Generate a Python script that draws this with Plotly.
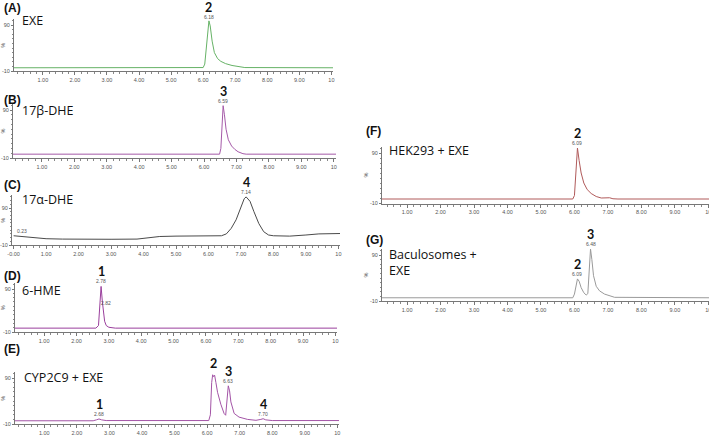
import plotly.graph_objects as go

W, H = 709, 436

# retention time (min) / relative intensity (%)
t_a = [0.1, 2.6, 2.75, 2.9, 3.4, 3.5, 3.6, 5.6, 5.7, 5.8, 6.0, 6.05, 6.1, 6.15, 6.18, 6.22, 6.28, 6.35, 6.45, 6.55, 6.7, 6.9, 7.1, 7.3, 10.05]
i_a = [-3, -3, -2, -3, -3, -2, -3, -3, -2.5, -3, -2.5, 5, 45, 90, 99, 88, 55, 30, 17, 11, 6, 2, -1, -2.5, -3]

t_b = [0.1, 6.48, 6.52, 6.55, 6.59, 6.63, 6.68, 6.75, 6.85, 6.95, 7.05, 7.2, 7.3, 10.07]
i_b = [-2, -2, 10, 55, 99, 80, 50, 28, 15, 8, 3, -1, -2, -2]

t_c = [0.0, 0.3, 0.6, 1.0, 1.5, 2.0, 3.0, 3.8, 4.2, 4.5, 5.0, 6.0, 6.4, 6.55, 6.7, 6.85, 7.0, 7.1, 7.16, 7.28, 7.4, 7.55, 7.7, 7.85, 8.0, 8.5, 9.0, 9.4, 10.05]
i_c = [15, 12, 9, 7, 6, 5.5, 5.5, 6, 9, 13, 14, 14, 15, 20, 35, 58, 90, 115, 120, 108, 80, 48, 26, 17, 15, 14, 17, 20, 21]

t_d = [0.1, 2.6, 2.68, 2.72, 2.76, 2.8, 2.83, 2.87, 2.92, 3.0, 3.2, 10.05]
i_d = [-1, -1, 5, 50, 96, 60, 38, 15, 5, 1, -1, -1]

t_e = [0.1, 2.5, 2.6, 2.68, 2.76, 2.9, 6.05, 6.1, 6.14, 6.17, 6.2, 6.23, 6.27, 6.32, 6.42, 6.52, 6.57, 6.61, 6.65, 6.69, 6.73, 6.83, 6.98, 7.24, 7.5, 7.65, 7.72, 7.8, 8.0, 10.05]
i_e = [-3, -3, -1, 1, -1, -2.5, -2.5, 10, 80, 97, 93, 96, 80, 59, 33, 13, 9, 40, 73, 62, 38, 13, 5, 0, -2, 0, 1.5, -1, -2.5, -2.5]

t_f = [0.25, 1.45, 1.5, 1.55, 5.95, 6.0, 6.04, 6.09, 6.14, 6.2, 6.28, 6.38, 6.5, 6.65, 6.8, 7.0, 7.05, 7.15, 7.3, 10.02]
i_f = [-2, -2, -1, -2, -2, 5, 50, 100, 75, 50, 30, 17, 9, 3, 0, -0.5, 0.5, -1.5, -2, -2]

t_g = [0.25, 5.95, 6.0, 6.05, 6.09, 6.14, 6.2, 6.28, 6.35, 6.4, 6.43, 6.48, 6.52, 6.57, 6.65, 6.75, 6.9, 7.05, 7.2, 10.02]
i_g = [-3, -3, 5, 28, 38, 33, 19, 8, 3, 6, 50, 103, 80, 45, 22, 12, 5, 1, -2, -3]

letters = ["(A)", "(B)", "(C)", "(D)", "(E)", "(F)", "(G)"]
samples = ["EXE", "17β-DHE", "17α-DHE", "6-HME", "CYP2C9 + EXE", "HEK293 + EXE", "Baculosomes +<br>EXE"]

# peak annotations: (peak number or "", retention time text, time, intensity)
peaks = [
    [("2", "6.18", 6.18, 97)],
    [("3", "6.59", 6.59, 99)],
    [("4", "7.14", 7.16, 120), ("", "0.23", 0.25, 15)],
    [("1", "2.78", 2.76, 96), ("", "2.82", 2.9, 45)],
    [("1", "2.68", 2.68, 1), ("2", "", 6.2, 97), ("3", "6.63", 6.65, 73), ("4", "7.70", 7.72, 1.5)],
    [("2", "6.09", 6.09, 100)],
    [("2", "6.09", 6.09, 38), ("3", "6.48", 6.48, 103)],
]

colors = ["#66b266", "#a55aa8", "#4a4a4a", "#9a3f9c", "#a354a6", "#b05a5a", "#9a9a9a"]

# layout in pixels: axis left/right, x range, y of the 90 and -10 ticks, top of y range
panels = [
    dict(l=14, r=333, x0=0.1, x1=10.05, p90=25, m10=71, ymax=103, lab=(2, 8), name=(20, 21)),
    dict(l=13, r=336, x0=0.11, x1=10.07, p90=110, m10=158, ymax=103, lab=(2, 100), name=(20, 111)),
    dict(l=12, r=340, x0=-0.05, x1=10.05, p90=208, m10=245, ymax=125, lab=(2, 185), name=(20, 199)),
    dict(l=15, r=337, x0=0.1, x1=10.05, p90=289, m10=332, ymax=103, lab=(2, 276), name=(20, 290)),
    dict(l=15, r=339, x0=0.1, x1=10.05, p90=378, m10=424, ymax=103, lab=(2, 349), name=(22, 377)),
    dict(l=382, r=709, x0=0.25, x1=10.02, p90=153, m10=203, ymax=103, lab=(364, 131), name=(387, 150)),
    dict(l=382, r=709, x0=0.25, x1=10.02, p90=255, m10=301, ymax=104, lab=(364, 240), name=(387, 262)),
]

series = [(t_a, i_a), (t_b, i_b), (t_c, i_c), (t_d, i_d), (t_e, i_e), (t_f, i_f), (t_g, i_g)]

fig = go.Figure()
annotations = []
YMIN = -11
tick_font = dict(family="Liberation Sans", size=5.5, color="#555")

for k, (p, (t, inten)) in enumerate(zip(panels, series)):
    n = "" if k == 0 else str(k + 1)
    s = (p["m10"] - p["p90"]) / 100.0
    bottom = p["m10"] + (-10 - YMIN) * s
    top = p["p90"] - (p["ymax"] - 90) * s
    fig.add_trace(go.Scatter(x=t, y=inten, mode="lines", line=dict(color=colors[k], width=1),
                             xaxis="x" + n, yaxis="y" + n, showlegend=False, hoverinfo="skip"))
    xt = list(range(0 if k == 2 else 1, 11))
    xlab = ["-0.00" if v == 0 else ("10" if v == 10 else f"{v:.2f}") for v in xt]
    fig.layout["xaxis" + n] = dict(
        domain=[p["l"] / W, p["r"] / W], range=[p["x0"], p["x1"]], anchor="y" + n, automargin=False,
        tickmode="array", tickvals=xt, ticktext=xlab, tickfont=tick_font, ticklabeloverflow="allow",
        showline=True, linecolor="#777", linewidth=1, showgrid=False, zeroline=False,
        ticks="outside", ticklen=3, tickcolor="#777",
        minor=dict(tickmode="linear", tick0=0, dtick=0.2, ticks="outside", ticklen=2, tickcolor="#888"),
    )
    fig.layout["yaxis" + n] = dict(
        domain=[1 - bottom / H, 1 - top / H], range=[YMIN, p["ymax"]], anchor="x" + n, automargin=False,
        tickmode="array", tickvals=[-10, 90], ticktext=["-10", "90"], tickfont=tick_font,
        showline=True, linecolor="#777", linewidth=1, showgrid=False, zeroline=False,
        ticks="outside", ticklen=2, tickcolor="#777",
        minor=dict(tickmode="linear", tick0=-10, dtick=10, ticks="outside", ticklen=1.5, tickcolor="#888"),
        title=dict(text="%", font=dict(family="Liberation Sans", size=5.5, color="#555"), standoff=1),
    )
    annotations.append(dict(x=p["lab"][0] / W, y=1 - p["lab"][1] / H, xref="paper", yref="paper",
                            text="<b>" + letters[k] + "</b>", showarrow=False, xanchor="left", yanchor="middle",
                            font=dict(family="Liberation Sans", size=12, color="#111")))
    annotations.append(dict(x=p["name"][0] / W, y=1 - p["name"][1] / H, xref="paper", yref="paper",
                            text=samples[k], showarrow=False, xanchor="left", yanchor="middle", align="left",
                            font=dict(family="Open Sans", size=12.5, color="#111")))
    for num, rt, px, py in peaks[k]:
        if rt:
            annotations.append(dict(x=px, y=py, xref="x" + n, yref="y" + n, text=rt, showarrow=False,
                                    yanchor="bottom", yshift=0, font=dict(family="Liberation Sans", size=5, color="#555")))
        if num:
            annotations.append(dict(x=px, y=py, xref="x" + n, yref="y" + n, text="<b>" + num + "</b>",
                                    showarrow=False, yanchor="bottom", yshift=5 if rt else 2,
                                    font=dict(family="Lato", size=12.5, color="#111")))

fig.update_layout(width=W, height=H, margin=dict(l=0, r=0, t=0, b=0, autoexpand=False), autosize=False,
                  paper_bgcolor="white", plot_bgcolor="white", annotations=annotations)
# drop the browser's default 8px body margin so the figure sits at the page corner
fig.write_html("out.html", config={"displayModeBar": False},
               post_script="document.body.style.margin='0';")
